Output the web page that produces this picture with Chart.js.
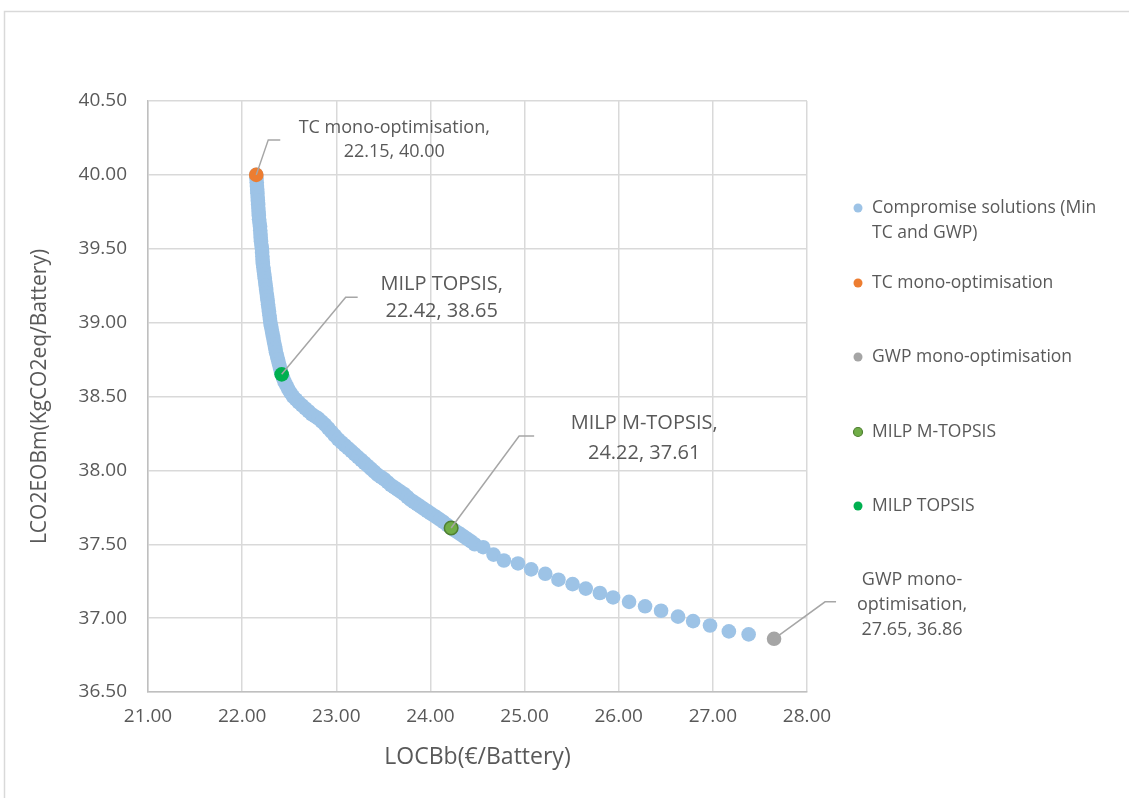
<!DOCTYPE html>
<html><head><meta charset="utf-8">
<script src="https://cdn.jsdelivr.net/npm/chart.js@4.4.0/dist/chart.umd.min.js"></script>
<style>html,body{margin:0;padding:0;background:#fff;}canvas{display:block;}</style>
</head><body>
<canvas id="c" width="1129" height="798"></canvas>
<script>
// ---- data ----
const compromiseX = [
  22.15,22.152,22.155,22.157,22.16,22.162,22.165,22.167,22.17,22.172,22.175,22.177,22.18,22.185,22.19,22.192,22.195,22.197,22.20,22.205,
  22.21,22.212,22.215,22.217,22.22,22.225,22.23,22.235,22.24,22.245,22.25,22.255,22.26,22.265,22.27,22.275,22.28,22.285,22.29,22.295,
  22.30,22.307,22.315,22.322,22.33,22.337,22.345,22.352,22.36,22.37,22.38,22.39,22.40,22.41,22.42,22.435,22.45,22.47,22.49,22.515,22.54,
  22.57,22.60,22.635,22.67,22.705,22.74,22.775,22.81,22.845,22.88,22.915,22.95,22.985,23.02,23.055,23.09,23.125,23.16,23.195,23.23,
  23.265,23.30,23.335,23.37,23.405,23.44,23.475,23.51,23.545,23.58,23.615,23.65,23.685,23.72,23.755,23.79,23.825,23.86,23.895,23.93,
  23.965,24.00,24.035,24.07,24.105,24.14,24.18,24.22,24.255,24.29,24.325,24.36,24.395,24.43,24.47,
  24.56,24.67,24.78,24.93,25.07,25.22,25.36,25.51,25.65,25.80,25.94,26.11,26.28,26.45,26.63,26.79,26.97,27.17,27.38];
const compromiseY = [
  40.00,39.975,39.95,39.925,39.90,39.875,39.85,39.825,39.80,39.775,39.75,39.725,39.70,39.675,39.65,39.625,39.60,39.575,39.55,39.525,
  39.50,39.475,39.45,39.425,39.40,39.375,39.35,39.325,39.30,39.275,39.25,39.225,39.20,39.175,39.15,39.125,39.10,39.075,39.05,39.025,
  39.00,38.975,38.95,38.925,38.90,38.875,38.85,38.825,38.80,38.775,38.75,38.725,38.70,38.675,38.65,38.625,38.60,38.575,38.55,38.525,38.50,
  38.48,38.46,38.44,38.42,38.40,38.38,38.365,38.35,38.33,38.31,38.285,38.26,38.235,38.21,38.19,38.17,38.15,38.13,38.11,38.09,
  38.07,38.05,38.03,38.01,37.99,37.97,37.955,37.94,37.92,37.90,37.885,37.87,37.855,37.84,37.82,37.80,37.785,37.77,37.755,37.74,
  37.725,37.71,37.695,37.68,37.665,37.65,37.63,37.61,37.595,37.58,37.565,37.55,37.535,37.52,37.50,
  37.48,37.43,37.39,37.37,37.33,37.30,37.26,37.23,37.20,37.17,37.14,37.11,37.08,37.05,37.01,36.98,36.95,36.91,36.89];
const tcPoint = [22.15, 40.00];
const gwpPoint = [27.65, 36.86];
const mTopsisPoint = [24.22, 37.61];
const topsisPoint = [22.42, 38.65];
const seriesNames = ["Compromise solutions (Min TC and GWP)","TC mono-optimisation","GWP mono-optimisation","MILP M-TOPSIS","MILP TOPSIS"];
const xTicks = [21,22,23,24,25,26,27,28];
const yTicks = [36.5,37,37.5,38,38.5,39,39.5,40,40.5];
const xTitle = "LOCBb(€/Battery)";
const yTitle = "LCO2EOBm(KgCO2eq/Battery)";

const FONT = "'Open Sans', 'Liberation Sans', sans-serif";
const TXT = '#595959';

const pts = (xs, ys) => xs.map((x, i) => ({x, y: ys[i]}));
const one = p => [{x: p[0], y: p[1]}];

// label layout (pixel offsets from point)
const labelDefs = [
  {ds:1, lines: p => ["TC mono-optimisation,", p.x.toFixed(2)+", "+p.y.toFixed(2)], size:18, bend:[12,-35], end:[24,-35], text:[138,-47], lh:24},
  {ds:4, lines: p => ["MILP TOPSIS,", p.x.toFixed(2)+", "+p.y.toFixed(2)], size:20, bend:[64,-77], end:[76,-77], text:[160,-90], lh:27},
  {ds:3, lines: p => ["MILP M-TOPSIS,", p.x.toFixed(2)+", "+p.y.toFixed(2)], size:20, bend:[68,-92], end:[83,-92], text:[193,-105], lh:30},
  {ds:2, lines: p => ["GWP mono-", "optimisation,", p.x.toFixed(2)+", "+p.y.toFixed(2)], size:18, bend:[51,-37], end:[62,-37], text:[138,-59], lh:25}
];

const framePlugin = {
  id:'frame',
  beforeDraw(chart){
    const ctx = chart.ctx;
    ctx.save();
    ctx.fillStyle = '#fff';
    ctx.fillRect(0,0,chart.width,chart.height);
    ctx.strokeStyle = '#d9d9d9';
    ctx.lineWidth = 1.5;
    ctx.beginPath();
    ctx.moveTo(4.5, chart.height);
    ctx.lineTo(4.5, 11.5);
    ctx.lineTo(chart.width, 11.5);
    ctx.stroke();
    ctx.restore();
  }
};

const labelPlugin = {
  id:'leaderLabels',
  afterDatasetsDraw(chart){
    const ctx = chart.ctx, xs = chart.scales.x, ys = chart.scales.y;
    ctx.save();
    labelDefs.forEach(d => {
      const p = chart.data.datasets[d.ds].data[0];
      const px = xs.getPixelForValue(p.x), py = ys.getPixelForValue(p.y);
      ctx.strokeStyle = '#a6a6a6';
      ctx.lineWidth = 1.5;
      ctx.beginPath();
      ctx.moveTo(px, py);
      ctx.lineTo(px + d.bend[0], py + d.bend[1]);
      ctx.lineTo(px + d.end[0], py + d.end[1]);
      ctx.stroke();
      ctx.fillStyle = TXT;
      ctx.font = d.size + 'px ' + FONT;
      ctx.textAlign = 'center';
      ctx.textBaseline = 'middle';
      d.lines(p).forEach((t, i) => ctx.fillText(t, px + d.text[0], py + d.text[1] + i * d.lh));
    });
    ctx.restore();
  }
};

const legendPlugin = {
  id:'sideLegend',
  afterDraw(chart){
    const ctx = chart.ctx;
    const rows = [208, 283, 357, 432, 506];
    ctx.save();
    ctx.font = '17.5px ' + FONT;
    ctx.textBaseline = 'middle';
    ctx.textAlign = 'left';
    chart.data.datasets.forEach((ds, i) => {
      const y = rows[i];
      ctx.beginPath();
      ctx.arc(858, y, 4.5, 0, Math.PI*2);
      ctx.fillStyle = ds.backgroundColor;
      ctx.fill();
      if (ds.borderWidth) { ctx.strokeStyle = ds.borderColor; ctx.lineWidth = 1.2; ctx.stroke(); }
      ctx.fillStyle = TXT;
      const words = ds.label.split(' ');
      let line = '', lines = [];
      words.forEach(w => {
        const test = line ? line + ' ' + w : w;
        if (ctx.measureText(test).width > 235 && line) { lines.push(line); line = w; } else line = test;
      });
      lines.push(line);
      lines.forEach((t, k) => ctx.fillText(t, 872, y + k * 25));
    });
    ctx.restore();
  }
};

new Chart(document.getElementById('c'), {
  type:'scatter',
  data:{
    datasets:[
      {label:seriesNames[0], data:pts(compromiseX, compromiseY), backgroundColor:'#9dc3e6', borderWidth:0, pointRadius:7.3, order:5},
      {label:seriesNames[1], data:one(tcPoint), backgroundColor:'#ed7d31', borderWidth:0, pointRadius:7.3, order:1},
      {label:seriesNames[2], data:one(gwpPoint), backgroundColor:'#a5a5a5', borderWidth:0, pointRadius:7.3, order:1},
      {label:seriesNames[3], data:one(mTopsisPoint), backgroundColor:'#70ad47', borderColor:'#4f7f31', borderWidth:1.5, pointRadius:6.8, order:1},
      {label:seriesNames[4], data:one(topsisPoint), backgroundColor:'#00b050', borderWidth:0, pointRadius:7.3, order:1}
    ]
  },
  options:{
    responsive:false, animation:false, devicePixelRatio:1,
    layout:{padding:{left:20, top:101, right:322, bottom:16}},
    plugins:{legend:{display:false}, tooltip:{enabled:false}},
    scales:{
      x:{
        type:'linear', min:xTicks[0], max:xTicks[xTicks.length-1],
        afterBuildTicks: s => { s.ticks = xTicks.map(v => ({value:v})); },
        afterFit: s => { s.height = 90; },
        grid:{color:'#d9d9d9', lineWidth:1.5, drawTicks:false},
        border:{color:'#bfbfbf', width:1.5},
        ticks:{padding:13, color:TXT, font:{family:FONT, size:19}, callback:v => Number(v).toFixed(2)},
        title:{display:true, text:xTitle, color:TXT, font:{family:FONT, size:23}, padding:{top:0, bottom:11}}
      },
      y:{
        type:'linear', min:yTicks[0], max:yTicks[yTicks.length-1],
        afterBuildTicks: s => { s.ticks = yTicks.map(v => ({value:v})); },
        afterFit: s => { s.width = 128; },
        grid:{color:'#d9d9d9', lineWidth:1.5, drawTicks:false},
        border:{color:'#bfbfbf', width:1.5},
        ticks:{padding:21, color:TXT, font:{family:FONT, size:19}, callback:v => Number(v).toFixed(2)},
        title:{display:true, text:yTitle, color:TXT, font:{family:FONT, size:21}, padding:{top:7, bottom:0}}
      }
    }
  },
  plugins:[framePlugin, labelPlugin, legendPlugin]
});
</script>
</body></html>
